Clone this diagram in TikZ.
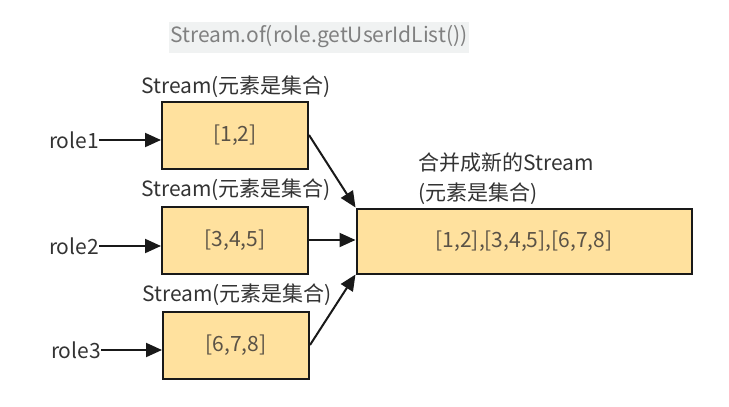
\documentclass[tikz,border=0pt]{standalone}
\usepackage{fontspec}
\setmainfont{Noto Sans CJK SC}
\usetikzlibrary{arrows.meta}
\definecolor{boxfill}{RGB}{255,225,158}
\definecolor{titlebg}{RGB}{240,242,242}
\definecolor{boxtext}{RGB}{90,82,70}
\tikzset{every picture/.append style={x=1pt,y=-1pt}}
\tikzset{stream/.style={draw=black!90, line width=2pt, fill=boxfill, text=boxtext, minimum width=146pt, minimum height=67pt, inner sep=0pt, font=\fontsize{21}{30}\selectfont}}
\tikzset{lbl/.style={text=black!80, inner sep=0pt, font=\fontsize{21}{30}\selectfont}}
\tikzset{edge/.style={line width=2pt, black!90, -{Triangle[length=16pt,width=14pt]}}}

\begin{document}
\begin{tikzpicture}
\useasboundingbox (0,0) rectangle (729,407);
\node (title) at (319,37)[fill=titlebg, text=black!50, minimum width=300pt, minimum height=31pt, inner sep=0pt, font=\fontsize{21}{25}\selectfont]{Stream.of(role.getUserIdList())};

\node (s1) at (235,135)[stream]{[1,2]};
\node (s2) at (235,240)[stream]{[3,4,5]};
\node (s3) at (236,345)[stream]{[6,7,8]};
\node (t1) at (236,87)[lbl]{Stream(元素是集合)};
\node (t2) at (236,190)[lbl]{Stream(元素是集合)};
\node (t3) at (237,295)[lbl]{Stream(元素是集合)};

\node (r1) at (74,140)[lbl]{role1};
\node (r2) at (74,246)[lbl]{role2};
\node (r3) at (76,350)[lbl]{role3};

\node (all) at (524,241)[stream, minimum width=335pt, minimum height=65pt]{[1,2],[3,4,5],[6,7,8]};
\node (allname) at (418,179)[lbl, anchor=west, align=left]{合并成新的Stream\\(元素是集合)};

\draw[edge] (r1.east) -- (r1.east -| s1.west);
\draw[edge] (r2.east) -- (r2.east -| s2.west);
\draw[edge] (r3.east) -- (r3.east -| s3.west);

\draw[edge] (s1.east) -- (all.north west);
\draw[edge] (s2.east) -- (s2.east -| all.west);
\draw[edge] (s3.east) -- (all.south west);
\end{tikzpicture}
\end{document}
